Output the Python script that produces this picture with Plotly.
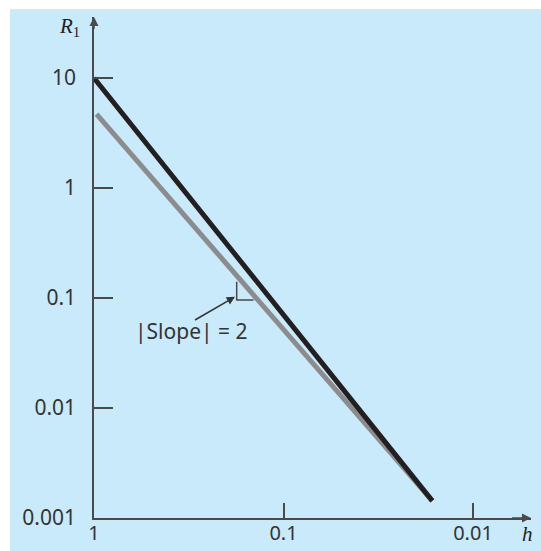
import plotly.graph_objects as go
import math

# ---- data ----
h_black = [1.0, 0.0164]
R_black = [10.0, 0.00143]
h_gray = [0.97, 0.0164]
R_gray = [4.7, 0.00143]

# slope triangle (right angle marker) in data units
tri_h = [0.1766, 0.1766, 0.144]
tri_R = [0.1406, 0.0959, 0.0959]

x_tickvals = [1, 0.1, 0.01]
x_ticktext = ["1", "0.1", "0.01"]
y_tickvals = [10, 1, 0.1, 0.01, 0.001]
y_ticktext = ["10", "1", "0.1", "0.01", "0.001"]

BLUE = "rgb(200,234,251)"
AX = "#4a4a4a"
TXT = "#333333"
FONT = "Noto Sans"

fig = go.Figure()
fig.add_trace(go.Scatter(x=h_gray, y=R_gray, mode="lines",
                         line=dict(color="#8c8c8c", width=5), hoverinfo="skip"))
fig.add_trace(go.Scatter(x=h_black, y=R_black, mode="lines",
                         line=dict(color="#231f20", width=5), hoverinfo="skip"))
fig.add_trace(go.Scatter(x=tri_h, y=tri_R, mode="lines",
                         line=dict(color=AX, width=1.5), hoverinfo="skip"))

W, H = 541, 551
L, R, T, B = 94, 10, 17, 33
pw, ph = W - L - R, H - T - B

def px(xp):
    return (xp - L) / pw

def py(yp):
    return (H - B - yp) / ph

fig.add_shape(type="rect", xref="paper", yref="paper",
              x0=px(10), x1=px(541), y0=py(551), y1=py(9),
              fillcolor=BLUE, line=dict(width=0), layer="below")

annotations = [
    # y axis arrow head
    dict(xref="paper", yref="paper", x=0, y=1, ax=0, ay=22, showarrow=True,
         arrowhead=2, arrowsize=1.2, arrowwidth=1.5, arrowcolor=AX, text=" "),
    # x axis arrow head
    dict(xref="paper", yref="paper", x=1, y=0, ax=-22, ay=0, showarrow=True,
         arrowhead=2, arrowsize=1.2, arrowwidth=1.5, arrowcolor=AX, text=" "),
    # axis labels
    dict(xref="paper", yref="paper", x=px(69), y=py(27), showarrow=False,
         text="<i>R</i><sub>1</sub>", xanchor="center", yanchor="middle",
         font=dict(family="Liberation Serif", size=21, color="#222")),
    dict(xref="paper", yref="paper", x=px(527), y=py(534), showarrow=False,
         text="<i>h</i>", xanchor="center", yanchor="middle",
         font=dict(family="Liberation Serif", size=21, color="#222")),
    # slope arrow
    dict(xref="x", yref="y", x=math.log10(0.1803), y=math.log10(0.1027),
         ax=-43, ay=25, showarrow=True, arrowhead=2, arrowsize=1.1,
         arrowwidth=1.5, arrowcolor=TXT, text=" "),
    dict(xref="paper", yref="paper", x=px(191), y=py(331), showarrow=False,
         text="|Slope| = 2", xanchor="center", yanchor="middle",
         font=dict(family=FONT, size=21, color=TXT)),
]

fig.update_layout(
    width=W, height=H,
    margin=dict(l=L, r=R, t=T, b=B, pad=0, autoexpand=False),
    paper_bgcolor="white",
    plot_bgcolor="rgba(0,0,0,0)",
    showlegend=False,
    annotations=annotations,
    xaxis=dict(type="log", range=[0, -2.306], tickvals=x_tickvals, ticktext=x_ticktext,
               ticks="inside", ticklen=15, tickwidth=1.5, tickcolor=AX,
               showline=True, linecolor=AX, linewidth=1.5, showgrid=False,
               zeroline=False, ticklabelstandoff=-4, automargin=False,
               tickfont=dict(family=FONT, size=20, color=TXT)),
    yaxis=dict(type="log", range=[-3, 1.555], tickvals=y_tickvals, ticktext=y_ticktext,
               ticks="inside", ticklen=19, tickwidth=1.5, tickcolor=AX,
               showline=True, linecolor=AX, linewidth=1.5, showgrid=False,
               zeroline=False, ticklabelstandoff=12, automargin=False,
               tickfont=dict(family=FONT, size=21, color=TXT)),
)

fig.write_html(
    "out.html",
    config={"displayModeBar": False, "responsive": False},
    post_script=(
        "var s=document.documentElement.style;s.margin='0';s.padding='0';s.overflow='hidden';"
        "var b=document.body.style;b.margin='0';b.padding='0';b.overflow='hidden';"
    ),
)
